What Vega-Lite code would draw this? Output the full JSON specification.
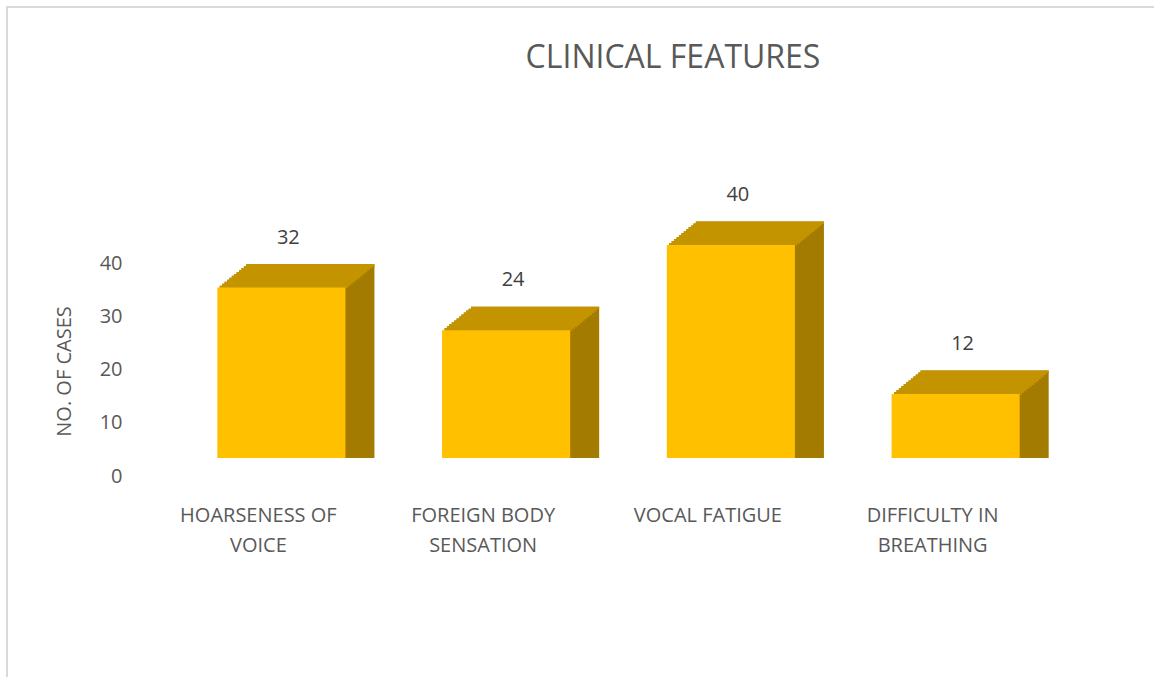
{
  "$schema": "https://vega.github.io/schema/vega-lite/v6.json",
  "autosize": "none",
  "padding": {"left": 7, "top": 7, "right": 0, "bottom": 0},
  "width": 1160,
  "height": 680,
  "background": "white",
  "config": {
    "view": {"stroke": "#d9d9d9", "strokeWidth": 2},
    "font": "Open Sans"
  },
  "title": {
    "text": "CLINICAL FEATURES",
    "font": "Open Sans",
    "fontSize": 32,
    "fontWeight": "normal",
    "color": "#595959",
    "anchor": "middle",
    "orient": "top",
    "baseline": "alphabetic",
    "offset": -93,
    "dx": 86
  },
  "data": {
    "values": [
      {"feature": "HOARSENESS OF VOICE", "count": 32},
      {"feature": "FOREIGN BODY SENSATION", "count": 24},
      {"feature": "VOCAL FATIGUE", "count": 40},
      {"feature": "DIFFICULTY IN BREATHING", "count": 12}
    ]
  },
  "encoding": {
    "x": {
      "field": "feature",
      "type": "nominal",
      "sort": null,
      "scale": {"range": [162, 1061], "paddingInner": 0.43, "paddingOuter": 0.215},
      "axis": {
        "title": null,
        "domain": false,
        "ticks": false,
        "labelAngle": 0,
        "labelPadding": 0,
        "offset": -182,
        "labelOffset": -23,
        "labelFont": "Open Sans",
        "labelFontSize": 20,
        "labelColor": "#595959",
        "labelLineHeight": 30,
        "labelBaseline": "top",
        "labelLimit": 400,
        "labelExpr": "length(datum.label) > 14 ? [slice(datum.label, 0, lastindexof(datum.label, ' ')), slice(datum.label, lastindexof(datum.label, ' ') + 1)] : datum.label"
      }
    },
    "y": {
      "field": "count",
      "type": "quantitative",
      "stack": null,
      "scale": {"domain": [0, 40], "range": [451, 238], "nice": false, "zero": true},
      "axis": {
        "title": "NO. OF CASES",
        "domain": false,
        "ticks": false,
        "grid": false,
        "values": [0, 10, 20, 30, 40],
        "offset": -115,
        "labelPadding": 0,
        "labelOffset": 18,
        "labelFont": "Open Sans",
        "labelFontSize": 20,
        "labelColor": "#595959",
        "labelAlign": "right",
        "labelBaseline": "middle",
        "titleFont": "Open Sans",
        "titleFontSize": 20,
        "titleFontWeight": "normal",
        "titleColor": "#595959",
        "titleAngle": -90,
        "titleAlign": "center",
        "titleBaseline": "middle",
        "titleX": -58,
        "titleY": 364
      }
    }
  },
  "layer": [
    {"mark": {"type": "bar", "color": "#A37B00", "xOffset": 2.42, "x2Offset": 2.42, "yOffset": -1.96, "y2Offset": -1.96}},
    {"mark": {"type": "bar", "color": "#A37B00", "xOffset": 4.83, "x2Offset": 4.83, "yOffset": -3.92, "y2Offset": -3.92}},
    {"mark": {"type": "bar", "color": "#A37B00", "xOffset": 7.25, "x2Offset": 7.25, "yOffset": -5.88, "y2Offset": -5.88}},
    {"mark": {"type": "bar", "color": "#A37B00", "xOffset": 9.67, "x2Offset": 9.67, "yOffset": -7.83, "y2Offset": -7.83}},
    {"mark": {"type": "bar", "color": "#A37B00", "xOffset": 12.08, "x2Offset": 12.08, "yOffset": -9.79, "y2Offset": -9.79}},
    {"mark": {"type": "bar", "color": "#A37B00", "xOffset": 14.5, "x2Offset": 14.5, "yOffset": -11.75, "y2Offset": -11.75}},
    {"mark": {"type": "bar", "color": "#A37B00", "xOffset": 16.92, "x2Offset": 16.92, "yOffset": -13.71, "y2Offset": -13.71}},
    {"mark": {"type": "bar", "color": "#A37B00", "xOffset": 19.33, "x2Offset": 19.33, "yOffset": -15.67, "y2Offset": -15.67}},
    {"mark": {"type": "bar", "color": "#A37B00", "xOffset": 21.75, "x2Offset": 21.75, "yOffset": -17.63, "y2Offset": -17.63}},
    {"mark": {"type": "bar", "color": "#A37B00", "xOffset": 24.17, "x2Offset": 24.17, "yOffset": -19.58, "y2Offset": -19.58}},
    {"mark": {"type": "bar", "color": "#A37B00", "xOffset": 26.58, "x2Offset": 26.58, "yOffset": -21.54, "y2Offset": -21.54}},
    {"mark": {"type": "bar", "color": "#A37B00", "xOffset": 29, "x2Offset": 29, "yOffset": -23.5, "y2Offset": -23.5}},
    {"mark": {"type": "bar", "color": "#C39400", "xOffset": 2.42, "x2Offset": 2.42, "yOffset": -1.96, "y2Offset": 0.6}, "encoding": {"y2": {"field": "count"}}},
    {"mark": {"type": "bar", "color": "#C39400", "xOffset": 4.83, "x2Offset": 4.83, "yOffset": -3.92, "y2Offset": -1.36}, "encoding": {"y2": {"field": "count"}}},
    {"mark": {"type": "bar", "color": "#C39400", "xOffset": 7.25, "x2Offset": 7.25, "yOffset": -5.88, "y2Offset": -3.32}, "encoding": {"y2": {"field": "count"}}},
    {"mark": {"type": "bar", "color": "#C39400", "xOffset": 9.67, "x2Offset": 9.67, "yOffset": -7.83, "y2Offset": -5.28}, "encoding": {"y2": {"field": "count"}}},
    {"mark": {"type": "bar", "color": "#C39400", "xOffset": 12.08, "x2Offset": 12.08, "yOffset": -9.79, "y2Offset": -7.23}, "encoding": {"y2": {"field": "count"}}},
    {"mark": {"type": "bar", "color": "#C39400", "xOffset": 14.5, "x2Offset": 14.5, "yOffset": -11.75, "y2Offset": -9.19}, "encoding": {"y2": {"field": "count"}}},
    {"mark": {"type": "bar", "color": "#C39400", "xOffset": 16.92, "x2Offset": 16.92, "yOffset": -13.71, "y2Offset": -11.15}, "encoding": {"y2": {"field": "count"}}},
    {"mark": {"type": "bar", "color": "#C39400", "xOffset": 19.33, "x2Offset": 19.33, "yOffset": -15.67, "y2Offset": -13.11}, "encoding": {"y2": {"field": "count"}}},
    {"mark": {"type": "bar", "color": "#C39400", "xOffset": 21.75, "x2Offset": 21.75, "yOffset": -17.63, "y2Offset": -15.07}, "encoding": {"y2": {"field": "count"}}},
    {"mark": {"type": "bar", "color": "#C39400", "xOffset": 24.17, "x2Offset": 24.17, "yOffset": -19.58, "y2Offset": -17.03}, "encoding": {"y2": {"field": "count"}}},
    {"mark": {"type": "bar", "color": "#C39400", "xOffset": 26.58, "x2Offset": 26.58, "yOffset": -21.54, "y2Offset": -18.98}, "encoding": {"y2": {"field": "count"}}},
    {"mark": {"type": "bar", "color": "#C39400", "xOffset": 29, "x2Offset": 29, "yOffset": -23.5, "y2Offset": -20.94}, "encoding": {"y2": {"field": "count"}}},
    {"mark": {"type": "bar", "color": "#FFC000"}},
    {"mark": {"type": "text", "dx": 7, "dy": -50, "font": "Open Sans", "fontSize": 20, "color": "#404040", "baseline": "middle"}, "encoding": {"text": {"field": "count", "type": "quantitative"}}}
  ]
}
